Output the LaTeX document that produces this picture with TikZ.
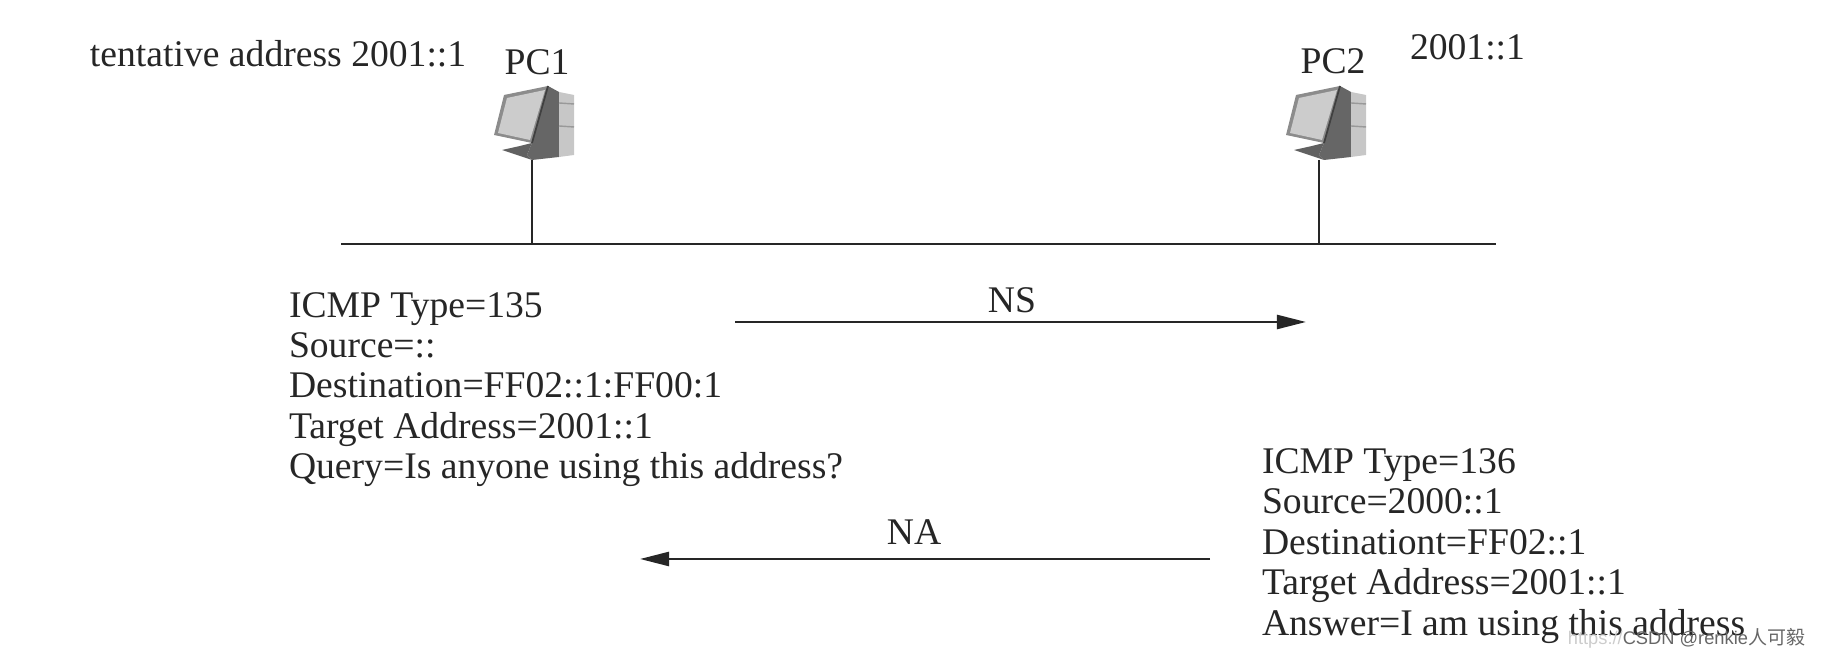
\documentclass[tikz,border=0pt]{standalone}
\usepackage{fontspec}
\setmainfont{Liberation Serif}
\setsansfont{Liberation Sans}
\newfontfamily\cjk{Noto Sans CJK SC}
\usetikzlibrary{positioning,arrows.meta}

\begin{document}
\begin{tikzpicture}
[x=0.01cm,y=-0.01cm,%
  lineDecorate/.style={-,line width=0.7pt,black!85},%
  arrowDecorate/.style={-{Triangle[length=2.9mm,width=1.4mm]},line width=0.7pt,black!85},%
  textDecorate/.style={inner sep=0pt,outer sep=0pt,text=black!85,font=\fontsize{10.7}{11.5}\selectfont},%
  blockDecorate/.style={textDecorate,align=left,anchor=base west},%
  markDecorate/.style={inner sep=0pt,outer sep=0pt,font=\fontsize{5.2}{7}\selectfont\sffamily},%
  pc/.pic={
    \fill[black!45] (-38,-25) -- (-28,-65) -- (16,-74) -- (0,-17) -- cycle;
    \fill[black!20] (-34,-27) -- (-25,-62) -- (13,-70) -- (-2,-20) -- cycle;
    \fill[black!60] (16,-74) -- (27,-68) -- (27,-3) -- (0,0) -- (-5,-5) -- (0,-17) -- cycle;
    \fill[black!22] (27,-68) -- (42,-65) -- (42,-5) -- (27,-3) -- cycle;
    \fill[black!62] (-30,-10) -- (-12,-14) -- (0,-17) -- (-5,-5) -- (0,0) -- cycle;
    \draw[black!75,line width=0.5pt] (16,-74) -- (0,-17);
    \draw[black!40,line width=0.4pt] (27,-57) -- (42,-56) (27,-34) -- (42,-33);
  }]
%% hosts
\foreach \nodename/\x/\shiftx in {pc1/532/0, pc2/1319/5}
{
  \coordinate (\nodename) at (\x,160);
  \coordinate (\nodename bus) at (\x,244);
  \pic at (\x+\shiftx,160) {pc};
  \draw[lineDecorate] (\nodename) -- (\nodename bus);
}
%% bus
\coordinate (busleft) at (341,244);
\coordinate (busright) at (1496,244);
\draw[lineDecorate] (busleft) -- (busright);
%% labels
\node[textDecorate,anchor=base] (pc1label) at (537,75) {PC1};
\node[textDecorate,anchor=base] (pc2label) at (1333,74) {PC2};
\node[textDecorate,anchor=base west] (tentative) at (90,67) {tentative address 2001::1};
\node[textDecorate,anchor=base west] (pc2addr) at (1410,60) {2001::1};
%% messages
\node[blockDecorate] (nsfirst) at (289,318) {ICMP Type=135};
\node[blockDecorate] (nssource) at (289,358) {Source=::};
\node[blockDecorate] (nsdest) at (289,398) {Destination=FF02::1:FF00:1};
\node[blockDecorate] (nstarget) at (289,439) {Target Address=2001::1};
\node[blockDecorate] (nsquery) at (289,479) {Query=Is anyone using this address?};
\node[blockDecorate] (nafirst) at (1262,474) {ICMP Type=136};
\node[blockDecorate] (nasource) at (1262,514) {Source=2000::1};
\node[blockDecorate] (nadest) at (1262,555) {Destinationt=FF02::1};
\node[blockDecorate] (natarget) at (1262,595) {Target Address=2001::1};
\node[blockDecorate] (naanswer) at (1262,636) {Answer=I am using this address};
%% arrows
\coordinate (nsstart) at (735,322);
\coordinate (nsend) at (1306,322);
\coordinate (nastart) at (1210,559);
\coordinate (naend) at (640,559);
\draw[arrowDecorate] (nsstart) -- (nsend);
\draw[arrowDecorate] (nastart) -- (naend);
\node[textDecorate,anchor=base] (nslabel) at (1012,313) {NS};
\node[textDecorate,anchor=base] (nalabel) at (914,545) {NA};
%% watermark
\node[markDecorate,anchor=base east,text=black!60] (mark) at (1805,645) {CSDN @renkie{\cjk\fontsize{5.4}{7}\selectfont 人可毅}};
\node[markDecorate,base left=0pt of mark,text=black!20] (markurl) {https://};
\useasboundingbox (0,0) rectangle (1821,659);
\end{tikzpicture}
\end{document}
